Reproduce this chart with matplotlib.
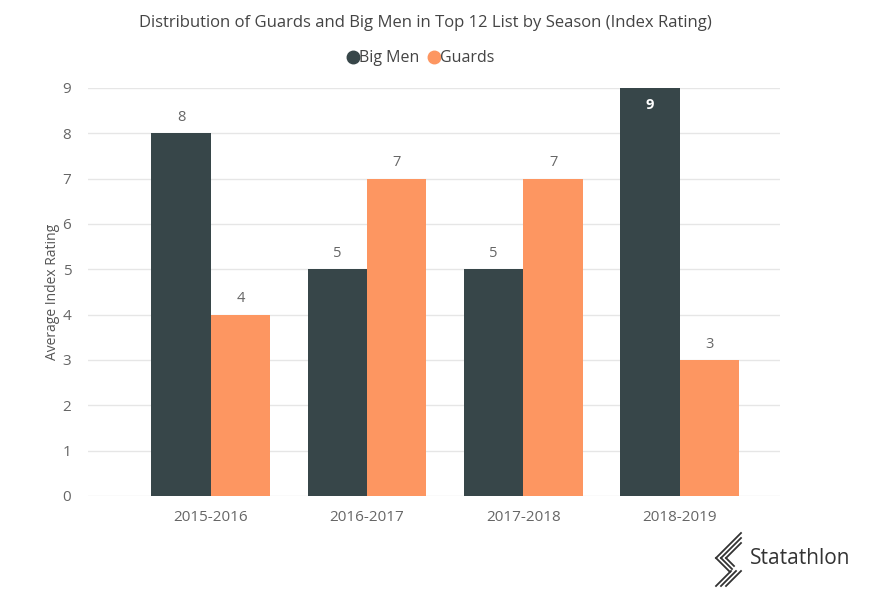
import matplotlib
matplotlib.use("Agg")
import matplotlib.pyplot as plt
from matplotlib.lines import Line2D
import numpy as np

seasons = ["2015-2016", "2016-2017", "2017-2018", "2018-2019"]
big_men = [8, 5, 5, 9]
guards = [4, 7, 7, 3]
yticks = list(range(0, 10))

plt.rcParams['font.family'] = ['Open Sans', 'DejaVu Sans']

C_BIG = "#374649"
C_GUA = "#FD9661"
C_TXT = "#666666"

fig = plt.figure(figsize=(8.8, 6.15), dpi=100)
ax = fig.add_axes([0.1, 0.1935, 0.786, 0.6635])

x = np.arange(len(seasons))
w = 0.38
b1 = ax.bar(x - w/2, big_men, w, color=C_BIG, label="Big Men", zorder=3)
b2 = ax.bar(x + w/2, guards, w, color=C_GUA, label="Guards", zorder=3)

for rect, v in zip(b1, big_men):
    cx = rect.get_x() + rect.get_width()/2
    if v >= 9:
        ax.text(cx, v - 0.37, str(v), ha="center", va="center", color="white",
                fontsize=10.5, fontweight="bold", zorder=4)
    else:
        ax.text(cx, v + 0.35, str(v), ha="center", va="center", color=C_TXT,
                fontsize=10.5, zorder=4)
for rect, v in zip(b2, guards):
    cx = rect.get_x() + rect.get_width()/2
    ax.text(cx, v + 0.35, str(v), ha="center", va="center", color=C_TXT,
            fontsize=10.5, zorder=4)

ax.set_xlim(-0.786, 3.64)
ax.set_ylim(0, 9)
ax.set_yticks(yticks)
ax.set_xticks(x)
ax.set_xticklabels(seasons)
ax.tick_params(axis="both", length=0, colors=C_TXT, labelsize=11)
ax.tick_params(axis="y", pad=12)
ax.tick_params(axis="x", pad=10)
ax.grid(axis="y", color="#e6e6e6", linewidth=1, zorder=0)
for s in ax.spines.values():
    s.set_visible(False)
ax.set_ylabel("Average Index Rating", color="#555555", fontsize=10)
ax.yaxis.set_label_coords(-0.040, 0.5)

fig.text(0.483, 0.962, "Distribution of Guards and Big Men in Top 12 List by Season (Index Rating)",
         ha="center", va="center", fontsize=12, color="#444444")

handles = [Line2D([], [], marker="o", linestyle="none", markersize=9, color=C_BIG),
           Line2D([], [], marker="o", linestyle="none", markersize=9, color=C_GUA)]
fig.legend(handles=handles, labels=["Big Men", "Guards"], loc="center",
           bbox_to_anchor=(0.478, 0.905), ncol=2, frameon=False,
           handlelength=0.7, handletextpad=0.0, borderpad=0,
           columnspacing=0.6, fontsize=11.5, labelcolor="#444444")

# logo
fig.text(0.852, 0.092, "Statathlon", ha="left", va="center", fontsize=15, color="#333333")

def seg(p0, p1):
    fig.add_artist(Line2D([p0[0] / 880, p1[0] / 880], [1 - p0[1] / 615, 1 - p1[1] / 615],
                          color="#333333", lw=1.3, transform=fig.transFigure))

for k in range(3):
    vx = 716 + 5 * k
    seg((vx, 558), (741, 558 - (741 - vx)))
    seg((vx, 558), (vx + 14 - 3 * k, 572 - 3 * k))
for k in range(3):
    seg((716 + 5 * k, 586), (731 + 5 * k, 571))

fig.savefig("out.png", dpi=100, facecolor="white")
